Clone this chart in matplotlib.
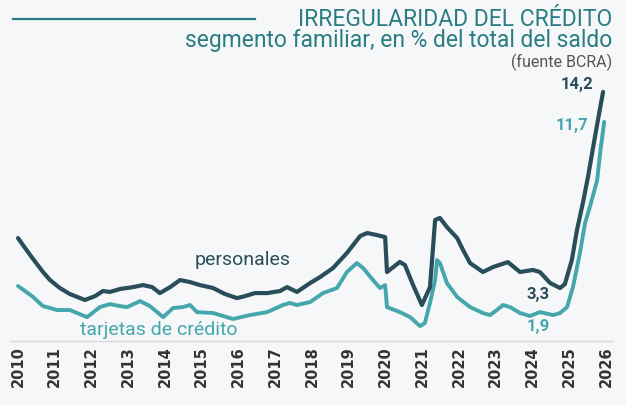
import matplotlib
matplotlib.use("Agg")
import matplotlib.pyplot as plt

plt.rcParams['font.family'] = ['Roboto', 'DejaVu Sans']

# datos (fecha en años decimales, valores en %)
fechas_pers = [2010.00, 2010.19, 2010.41, 2010.68, 2010.87, 2011.14, 2011.41, 2011.82,
               2012.10, 2012.31, 2012.50, 2012.78, 2013.13, 2013.40, 2013.65, 2013.86,
               2014.14, 2014.41, 2014.68, 2014.95, 2015.31, 2015.63, 2015.96, 2016.18,
               2016.45, 2016.78, 2017.13, 2017.32, 2017.59, 2017.95, 2018.22, 2018.57,
               2018.95, 2019.31, 2019.50, 2019.77, 2019.99, 2020.04, 2020.39, 2020.53,
               2020.75, 2020.99, 2021.21, 2021.35, 2021.48, 2021.67, 2021.95, 2022.11,
               2022.30, 2022.65, 2022.93, 2023.33, 2023.66, 2024.01, 2024.20, 2024.48,
               2024.75, 2024.88, 2025.07, 2025.21, 2025.37, 2025.51, 2025.65, 2025.78,
               2025.92]
personales = [5.92, 5.39, 4.80, 4.10, 3.67, 3.24, 2.92, 2.60,
              2.81, 3.08, 3.03, 3.19, 3.29, 3.40, 3.29, 2.97,
              3.29, 3.67, 3.56, 3.40, 3.24, 2.92, 2.70, 2.81,
              2.97, 2.97, 3.08, 3.29, 3.03, 3.51, 3.83, 4.31,
              5.12, 6.03, 6.19, 6.08, 5.97, 4.10, 4.64, 4.47,
              3.40, 2.33, 3.29, 6.89, 7.00, 6.51, 5.92, 5.28,
              4.58, 4.10, 4.37, 4.63, 4.10, 4.21, 4.10, 3.51,
              3.24, 3.45, 4.74, 6.35, 7.80, 9.20, 10.80, 12.25,
              13.76]

fechas_tarj = [2010.00, 2010.19, 2010.41, 2010.68, 2010.87, 2011.06, 2011.41, 2011.88,
               2012.23, 2012.50, 2012.78, 2012.97, 2013.32, 2013.59, 2013.95, 2014.22,
               2014.49, 2014.68, 2014.87, 2015.31, 2015.85, 2016.31, 2016.78, 2017.21,
               2017.40, 2017.59, 2017.95, 2018.30, 2018.68, 2018.95, 2019.22, 2019.39,
               2019.66, 2019.85, 2019.99, 2020.04, 2020.39, 2020.67, 2020.94, 2021.07,
               2021.21, 2021.35, 2021.40, 2021.48, 2021.67, 2021.95, 2022.30, 2022.65,
               2022.84, 2023.03, 2023.20, 2023.39, 2023.66, 2023.93, 2024.20, 2024.56,
               2024.75, 2024.94, 2025.10, 2025.29, 2025.43, 2025.56, 2025.76, 2025.84,
               2025.95]
tarjetas = [3.35, 3.08, 2.76, 2.27, 2.17, 2.06, 2.06, 1.68,
            2.22, 2.38, 2.27, 2.22, 2.54, 2.27, 1.68, 2.17,
            2.22, 2.33, 1.95, 1.90, 1.58, 1.79, 1.95, 2.33,
            2.44, 2.33, 2.49, 2.97, 3.24, 4.10, 4.58, 4.31,
            3.67, 3.24, 3.40, 2.22, 1.95, 1.68, 1.20, 1.36,
            2.44, 3.67, 4.74, 4.58, 3.51, 2.76, 2.22, 1.90,
            1.79, 2.06, 2.33, 2.22, 1.90, 1.74, 1.95, 1.79,
            1.90, 2.22, 3.29, 5.12, 6.73, 7.59, 9.03, 10.48,
            12.15]

anios = list(range(2010, 2027))

c_pers = '#294d59'
c_tarj = '#45a7ac'
c_titulo = '#2b7d84'
fondo = '#f6f7f8'

fig = plt.figure(figsize=(6.26, 4.05), dpi=100, facecolor=fondo)
ax = fig.add_axes([10/626, 64/405, 603/626, 281/405], facecolor=fondo)

ax.plot(fechas_tarj, tarjetas, color=c_tarj, lw=2.8, solid_capstyle='round', solid_joinstyle='round')
ax.plot(fechas_pers, personales, color=c_pers, lw=3.0, solid_capstyle='round', solid_joinstyle='round')

ax.set_xlim(2009.782, 2026.19)
ax.set_ylim(0.40, 15.47)

for s in ['top', 'right', 'left']:
    ax.spines[s].set_visible(False)
ax.spines['bottom'].set_color('#d8d8d8')
ax.spines['bottom'].set_linewidth(1.0)
ax.set_yticks([])
ax.set_xticks(anios)
ax.set_xticklabels([str(a) for a in anios], rotation=90, fontsize=10.5,
                   fontweight='bold', color='#333333', family='DejaVu Sans')
ax.tick_params(axis='x', length=0, pad=4)

# etiquetas de series
ax.text(2016.12, 4.75, 'personales', color=c_pers, fontsize=14, ha='center', va='center')
ax.text(2013.84, 0.98, 'tarjetas de crédito', color=c_tarj, fontsize=14, ha='center', va='center')

# valores
ax.text(2025.65, 14.18, '14,2', color=c_pers, fontsize=12, fontweight='bold', ha='right', va='center')
ax.text(2025.51, 11.98, '11,7', color=c_tarj, fontsize=12, fontweight='bold', ha='right', va='center')
ax.text(2024.15, 2.9, '3,3', color=c_pers, fontsize=12, fontweight='bold', ha='center', va='center')
ax.text(2024.17, 1.2, '1,9', color=c_tarj, fontsize=12, fontweight='bold', ha='center', va='center')

# titulo
fig.text(612/626, 1 - 26/405, 'IRREGULARIDAD DEL CRÉDITO', color=c_titulo, fontsize=16.5,
         ha='right', va='baseline')
fig.text(612/626, 1 - 47.5/405, 'segmento familiar, en % del total del saldo', color=c_titulo,
         fontsize=16.5, ha='right', va='baseline')
fig.text(612/626, 1 - 67/405, '(fuente BCRA)', color='#555555', fontsize=11.5,
         ha='right', va='baseline')
fig.add_artist(plt.Line2D([13/626, 255/626], [1 - 18.5/405, 1 - 18.5/405], color=c_titulo, lw=1.6))

fig.savefig('out.png', dpi=100, facecolor=fondo)
